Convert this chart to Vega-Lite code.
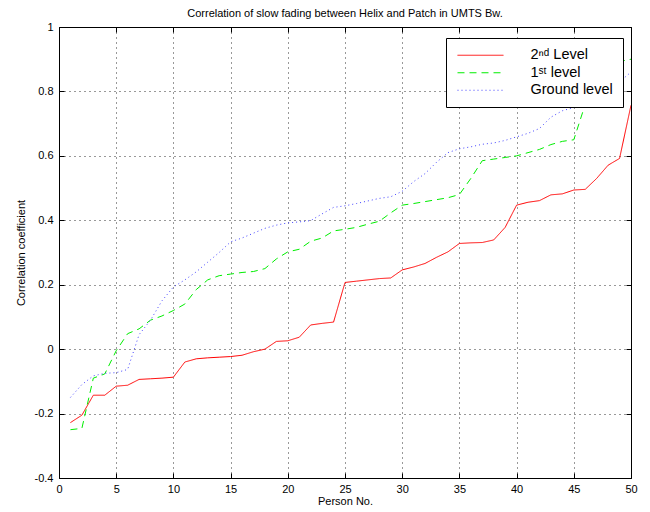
{
  "$schema": "https://vega.github.io/schema/vega-lite/v6.json",
  "width": 572,
  "height": 451,
  "autosize": "none",
  "padding": {"left": 59, "top": 27, "right": 19, "bottom": 34},
  "background": "white",
  "title": {"text": "Correlation of slow fading between Helix and Patch in UMTS Bw.", "fontSize": 11, "fontWeight": "normal", "font": "Liberation Sans", "anchor": "middle", "offset": 2, "color": "black"},
  "config": {
    "view": {"stroke": "black", "strokeWidth": 1},
    "font": "Liberation Sans",
    "axis": {"labelFont": "Liberation Sans", "titleFont": "Liberation Sans", "labelFontSize": 11, "titleFontSize": 11, "titleFontWeight": "normal", "labelColor": "black", "titleColor": "black", "domainColor": "black", "tickColor": "black", "gridColor": "black", "gridDash": [1, 4], "gridOpacity": 0.8}
  },
  "datasets": {
    "d": [
      {"person": 1, "level": "2ⁿᵈ Level", "r": -0.228}, {"person": 2, "level": "2ⁿᵈ Level", "r": -0.205}, {"person": 3, "level": "2ⁿᵈ Level", "r": -0.143}, {"person": 4, "level": "2ⁿᵈ Level", "r": -0.143}, {"person": 5, "level": "2ⁿᵈ Level", "r": -0.115}, {"person": 6, "level": "2ⁿᵈ Level", "r": -0.112}, {"person": 7, "level": "2ⁿᵈ Level", "r": -0.094}, {"person": 8, "level": "2ⁿᵈ Level", "r": -0.092}, {"person": 9, "level": "2ⁿᵈ Level", "r": -0.09}, {"person": 10, "level": "2ⁿᵈ Level", "r": -0.087},
      {"person": 11, "level": "2ⁿᵈ Level", "r": -0.04}, {"person": 12, "level": "2ⁿᵈ Level", "r": -0.03}, {"person": 13, "level": "2ⁿᵈ Level", "r": -0.027}, {"person": 14, "level": "2ⁿᵈ Level", "r": -0.025}, {"person": 15, "level": "2ⁿᵈ Level", "r": -0.023}, {"person": 16, "level": "2ⁿᵈ Level", "r": -0.019}, {"person": 17, "level": "2ⁿᵈ Level", "r": -0.008}, {"person": 18, "level": "2ⁿᵈ Level", "r": 0.0}, {"person": 19, "level": "2ⁿᵈ Level", "r": 0.024}, {"person": 20, "level": "2ⁿᵈ Level", "r": 0.026},
      {"person": 21, "level": "2ⁿᵈ Level", "r": 0.037}, {"person": 22, "level": "2ⁿᵈ Level", "r": 0.075}, {"person": 23, "level": "2ⁿᵈ Level", "r": 0.08}, {"person": 24, "level": "2ⁿᵈ Level", "r": 0.084}, {"person": 25, "level": "2ⁿᵈ Level", "r": 0.207}, {"person": 26, "level": "2ⁿᵈ Level", "r": 0.211}, {"person": 27, "level": "2ⁿᵈ Level", "r": 0.215}, {"person": 28, "level": "2ⁿᵈ Level", "r": 0.219}, {"person": 29, "level": "2ⁿᵈ Level", "r": 0.221}, {"person": 30, "level": "2ⁿᵈ Level", "r": 0.246},
      {"person": 31, "level": "2ⁿᵈ Level", "r": 0.255}, {"person": 32, "level": "2ⁿᵈ Level", "r": 0.266}, {"person": 33, "level": "2ⁿᵈ Level", "r": 0.285}, {"person": 34, "level": "2ⁿᵈ Level", "r": 0.302}, {"person": 35, "level": "2ⁿᵈ Level", "r": 0.328}, {"person": 36, "level": "2ⁿᵈ Level", "r": 0.33}, {"person": 37, "level": "2ⁿᵈ Level", "r": 0.331}, {"person": 38, "level": "2ⁿᵈ Level", "r": 0.339}, {"person": 39, "level": "2ⁿᵈ Level", "r": 0.378}, {"person": 40, "level": "2ⁿᵈ Level", "r": 0.447},
      {"person": 41, "level": "2ⁿᵈ Level", "r": 0.456}, {"person": 42, "level": "2ⁿᵈ Level", "r": 0.461}, {"person": 43, "level": "2ⁿᵈ Level", "r": 0.479}, {"person": 44, "level": "2ⁿᵈ Level", "r": 0.482}, {"person": 45, "level": "2ⁿᵈ Level", "r": 0.494}, {"person": 46, "level": "2ⁿᵈ Level", "r": 0.496}, {"person": 47, "level": "2ⁿᵈ Level", "r": 0.53}, {"person": 48, "level": "2ⁿᵈ Level", "r": 0.571}, {"person": 49, "level": "2ⁿᵈ Level", "r": 0.592}, {"person": 50, "level": "2ⁿᵈ Level", "r": 0.757},
      {"person": 1, "level": "1ˢᵗ level", "r": -0.25}, {"person": 2, "level": "1ˢᵗ level", "r": -0.246}, {"person": 3, "level": "1ˢᵗ level", "r": -0.09}, {"person": 4, "level": "1ˢᵗ level", "r": -0.077}, {"person": 5, "level": "1ˢᵗ level", "r": -0.005}, {"person": 6, "level": "1ˢᵗ level", "r": 0.048}, {"person": 7, "level": "1ˢᵗ level", "r": 0.063}, {"person": 8, "level": "1ˢᵗ level", "r": 0.09}, {"person": 9, "level": "1ˢᵗ level", "r": 0.103}, {"person": 10, "level": "1ˢᵗ level", "r": 0.12},
      {"person": 11, "level": "1ˢᵗ level", "r": 0.14}, {"person": 12, "level": "1ˢᵗ level", "r": 0.185}, {"person": 13, "level": "1ˢᵗ level", "r": 0.215}, {"person": 14, "level": "1ˢᵗ level", "r": 0.228}, {"person": 15, "level": "1ˢᵗ level", "r": 0.233}, {"person": 16, "level": "1ˢᵗ level", "r": 0.238}, {"person": 17, "level": "1ˢᵗ level", "r": 0.241}, {"person": 18, "level": "1ˢᵗ level", "r": 0.25}, {"person": 19, "level": "1ˢᵗ level", "r": 0.28}, {"person": 20, "level": "1ˢᵗ level", "r": 0.302},
      {"person": 21, "level": "1ˢᵗ level", "r": 0.31}, {"person": 22, "level": "1ˢᵗ level", "r": 0.335}, {"person": 23, "level": "1ˢᵗ level", "r": 0.345}, {"person": 24, "level": "1ˢᵗ level", "r": 0.367}, {"person": 25, "level": "1ˢᵗ level", "r": 0.372}, {"person": 26, "level": "1ˢᵗ level", "r": 0.378}, {"person": 27, "level": "1ˢᵗ level", "r": 0.388}, {"person": 28, "level": "1ˢᵗ level", "r": 0.397}, {"person": 29, "level": "1ˢᵗ level", "r": 0.423}, {"person": 30, "level": "1ˢᵗ level", "r": 0.447},
      {"person": 31, "level": "1ˢᵗ level", "r": 0.452}, {"person": 32, "level": "1ˢᵗ level", "r": 0.458}, {"person": 33, "level": "1ˢᵗ level", "r": 0.464}, {"person": 34, "level": "1ˢᵗ level", "r": 0.47}, {"person": 35, "level": "1ˢᵗ level", "r": 0.48}, {"person": 36, "level": "1ˢᵗ level", "r": 0.53}, {"person": 37, "level": "1ˢᵗ level", "r": 0.585}, {"person": 38, "level": "1ˢᵗ level", "r": 0.59}, {"person": 39, "level": "1ˢᵗ level", "r": 0.595}, {"person": 40, "level": "1ˢᵗ level", "r": 0.6},
      {"person": 41, "level": "1ˢᵗ level", "r": 0.61}, {"person": 42, "level": "1ˢᵗ level", "r": 0.62}, {"person": 43, "level": "1ˢᵗ level", "r": 0.635}, {"person": 44, "level": "1ˢᵗ level", "r": 0.645}, {"person": 45, "level": "1ˢᵗ level", "r": 0.65}, {"person": 46, "level": "1ˢᵗ level", "r": 0.76}, {"person": 47, "level": "1ˢᵗ level", "r": 0.85}, {"person": 48, "level": "1ˢᵗ level", "r": 0.88}, {"person": 49, "level": "1ˢᵗ level", "r": 0.893}, {"person": 50, "level": "1ˢᵗ level", "r": 0.9},
      {"person": 1, "level": "Ground level", "r": -0.15}, {"person": 2, "level": "Ground level", "r": -0.11}, {"person": 3, "level": "Ground level", "r": -0.083}, {"person": 4, "level": "Ground level", "r": -0.075}, {"person": 5, "level": "Ground level", "r": -0.073}, {"person": 6, "level": "Ground level", "r": -0.063}, {"person": 7, "level": "Ground level", "r": 0.045}, {"person": 8, "level": "Ground level", "r": 0.09}, {"person": 9, "level": "Ground level", "r": 0.15}, {"person": 10, "level": "Ground level", "r": 0.193},
      {"person": 11, "level": "Ground level", "r": 0.215}, {"person": 12, "level": "Ground level", "r": 0.24}, {"person": 13, "level": "Ground level", "r": 0.27}, {"person": 14, "level": "Ground level", "r": 0.3}, {"person": 15, "level": "Ground level", "r": 0.333}, {"person": 16, "level": "Ground level", "r": 0.345}, {"person": 17, "level": "Ground level", "r": 0.36}, {"person": 18, "level": "Ground level", "r": 0.375}, {"person": 19, "level": "Ground level", "r": 0.385}, {"person": 20, "level": "Ground level", "r": 0.392},
      {"person": 21, "level": "Ground level", "r": 0.395}, {"person": 22, "level": "Ground level", "r": 0.399}, {"person": 23, "level": "Ground level", "r": 0.42}, {"person": 24, "level": "Ground level", "r": 0.44}, {"person": 25, "level": "Ground level", "r": 0.445}, {"person": 26, "level": "Ground level", "r": 0.452}, {"person": 27, "level": "Ground level", "r": 0.46}, {"person": 28, "level": "Ground level", "r": 0.468}, {"person": 29, "level": "Ground level", "r": 0.473}, {"person": 30, "level": "Ground level", "r": 0.49},
      {"person": 31, "level": "Ground level", "r": 0.52}, {"person": 32, "level": "Ground level", "r": 0.545}, {"person": 33, "level": "Ground level", "r": 0.58}, {"person": 34, "level": "Ground level", "r": 0.61}, {"person": 35, "level": "Ground level", "r": 0.622}, {"person": 36, "level": "Ground level", "r": 0.628}, {"person": 37, "level": "Ground level", "r": 0.636}, {"person": 38, "level": "Ground level", "r": 0.64}, {"person": 39, "level": "Ground level", "r": 0.648}, {"person": 40, "level": "Ground level", "r": 0.659},
      {"person": 41, "level": "Ground level", "r": 0.67}, {"person": 42, "level": "Ground level", "r": 0.685}, {"person": 43, "level": "Ground level", "r": 0.72}, {"person": 44, "level": "Ground level", "r": 0.74}, {"person": 45, "level": "Ground level", "r": 0.75}, {"person": 46, "level": "Ground level", "r": 0.765}, {"person": 47, "level": "Ground level", "r": 0.78}, {"person": 48, "level": "Ground level", "r": 0.8}, {"person": 49, "level": "Ground level", "r": 0.83}, {"person": 50, "level": "Ground level", "r": 0.86}
    ]
  },
  "data": {"name": "d"},
  "resolve": {"axis": {"x": "independent", "y": "independent"}},
  "layer": [
    {
      "mark": {"type": "line", "strokeWidth": 1, "clip": true},
      "encoding": {
        "x": {"field": "person", "type": "quantitative", "scale": {"domain": [0, 50], "nice": false, "zero": false},
          "axis": {"title": "Person No.", "values": [0, 5, 10, 15, 20, 25, 30, 35, 40, 45, 50], "tickSize": -5, "labelPadding": 10, "titlePadding": 1, "grid": true, "domain": false, "labelFlush": false}},
        "y": {"field": "r", "type": "quantitative", "scale": {"domain": [-0.4, 1], "nice": false, "zero": false},
          "axis": {"title": "Correlation coefficient", "values": [-0.4, -0.2, 0, 0.2, 0.4, 0.6, 0.8, 1], "tickSize": -5, "labelPadding": 11, "titlePadding": 8, "grid": true, "domain": false, "labelFlush": false, "labelExpr": "replace(format(datum.value, '~g'), '−', '-')"}},
        "color": {"field": "level", "type": "nominal",
          "scale": {"domain": ["2ⁿᵈ Level", "1ˢᵗ level", "Ground level"], "range": ["#ff0000", "#00ee00", "#4444ff"]},
          "legend": {"title": null, "orient": "none", "legendX": 387, "legendY": 11, "symbolType": "M-1,0H7", "symbolSize": 132, "symbolStrokeWidth": 1, "symbolFillColor": "transparent", "labelOffset": 60, "labelFontSize": 14.5, "labelFont": "Liberation Sans", "labelColor": "black", "padding": 10, "rowPadding": 2.5, "fillColor": "white", "strokeColor": "black", "labelLimit": 200,
            "encode": {"symbols": {"update": {"stroke": {"scale": "color", "field": "value"}, "fill": {"value": "transparent"}}}}}},
        "strokeDash": {"field": "level", "type": "nominal",
          "scale": {"domain": ["2ⁿᵈ Level", "1ˢᵗ level", "Ground level"], "range": [[1, 0], [7, 5], [1, 3]]},
          "legend": {"title": null}}
      }
    },
    {
      "mark": {"type": "line", "opacity": 0},
      "encoding": {
        "x": {"field": "person", "type": "quantitative", "axis": {"orient": "top", "title": null, "labels": false, "values": [0, 5, 10, 15, 20, 25, 30, 35, 40, 45, 50], "tickSize": -5, "grid": false, "domain": false}},
        "y": {"field": "r", "type": "quantitative", "axis": {"orient": "right", "title": null, "labels": false, "values": [-0.4, -0.2, 0, 0.2, 0.4, 0.6, 0.8, 1], "tickSize": -5, "grid": false, "domain": false}},
        "detail": {"field": "level", "type": "nominal"}
      }
    }
  ]
}
